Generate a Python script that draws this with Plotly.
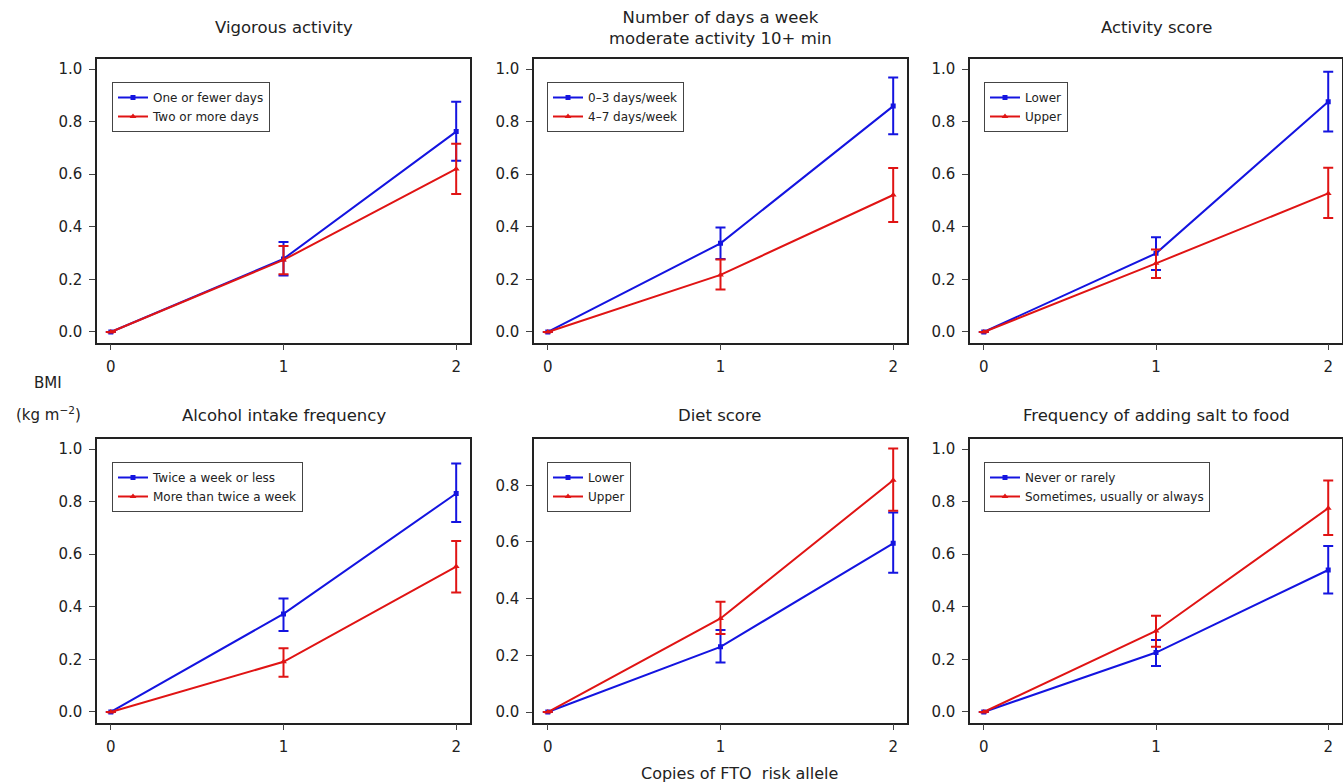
import plotly.graph_objects as go

# ---- data ----
copies = [0, 1, 2]
titles = ["Vigorous activity",
          "Number of days a week<br>moderate activity 10+ min",
          "Activity score",
          "Alcohol intake frequency",
          "Diet score",
          "Frequency of adding salt to food"]
labels_a = ["One or fewer days", "0\u20133 days/week", "Lower",
            "Twice a week or less", "Lower", "Never or rarely"]
labels_b = ["Two or more days", "4\u20137 days/week", "Upper",
            "More than twice a week", "Upper", "Sometimes, usually or always"]

# group A (blue) means, upper, lower
a_mean = [[0, 0.278, 0.762], [0, 0.337, 0.859], [0, 0.299, 0.876],
          [0, 0.373, 0.831], [0, 0.230, 0.595], [0, 0.226, 0.540]]
a_hi = [[0, 0.342, 0.876], [0, 0.397, 0.968], [0, 0.360, 0.990],
        [0, 0.432, 0.945], [0, 0.289, 0.704], [0, 0.274, 0.631]]
a_lo = [[0, 0.215, 0.651], [0, 0.278, 0.752], [0, 0.236, 0.762],
        [0, 0.308, 0.722], [0, 0.175, 0.491], [0, 0.175, 0.451]]
# group B (red)
b_mean = [[0, 0.274, 0.620], [0, 0.217, 0.521], [0, 0.261, 0.527],
          [0, 0.191, 0.553], [0, 0.330, 0.818], [0, 0.308, 0.775]]
b_hi = [[0, 0.327, 0.716], [0, 0.276, 0.624], [0, 0.314, 0.625],
        [0, 0.242, 0.650], [0, 0.389, 0.930], [0, 0.366, 0.880]]
b_lo = [[0, 0.220, 0.525], [0, 0.162, 0.418], [0, 0.205, 0.433],
        [0, 0.134, 0.454], [0, 0.275, 0.710], [0, 0.248, 0.673]]

y_ranges = [[-0.04, 1.04]] * 4 + [[-0.037, 0.965]] + [[-0.04, 1.04]]
y_ticks = [[0, 0.2, 0.4, 0.6, 0.8, 1.0]] * 4 + [[0, 0.2, 0.4, 0.6, 0.8]] + [[0, 0.2, 0.4, 0.6, 0.8, 1.0]]

W, H = 1343, 784
BLUE = "#1414e0"
RED = "#e01414"
FONT = "DejaVu Sans, Liberation Sans, Arial, sans-serif"

# layout geometry (pixels)
x_boxes = [(97, 470), (534, 907), (970, 1342)]
y_boxes = [(58.5, 342.5), (438.5, 722.5)]
legend_pos = [(112, 82), (547, 82), (984, 82), (112, 462), (547, 462), (984, 462)]

fig = go.Figure()
layout = dict(width=W, height=H, margin=dict(l=0, r=0, t=0, b=0),
              plot_bgcolor="white", paper_bgcolor="white",
              font=dict(family=FONT, color="#222"),
              showlegend=True)
annotations = []


def err(mean, hi, lo):
    return dict(type="data", symmetric=False,
                array=[h - m for h, m in zip(hi, mean)],
                arrayminus=[m - l for m, l in zip(mean, lo)],
                width=5, thickness=2)


for i in range(6):
    r, c = divmod(i, 3)
    k = "" if i == 0 else str(i + 1)
    xa, ya = "x" + k, "y" + k
    lg = "legend" + k

    ea = err(a_mean[i], a_hi[i], a_lo[i])
    eb = err(b_mean[i], b_hi[i], b_lo[i])
    fig.add_trace(go.Scatter(x=copies, y=a_mean[i], mode="lines+markers",
                             name=labels_a[i], xaxis=xa, yaxis=ya, legend=lg,
                             line=dict(color=BLUE, width=2),
                             marker=dict(symbol="square", size=5, color=BLUE),
                             error_y=dict(ea, color=BLUE)))
    fig.add_trace(go.Scatter(x=copies, y=b_mean[i], mode="lines+markers",
                             name=labels_b[i], xaxis=xa, yaxis=ya, legend=lg,
                             line=dict(color=RED, width=2),
                             marker=dict(symbol="triangle-up", size=6, color=RED),
                             error_y=dict(eb, color=RED)))

    x0, x1 = x_boxes[c]
    y0, y1 = y_boxes[r]
    common = dict(ticks="outside", ticklen=6, tickwidth=1.2,
                  showline=True, linecolor="#222", linewidth=1.5,
                  mirror=True, showgrid=False, zeroline=False,
                  ticklabelstandoff=4,
                  tickfont=dict(size=15, color="#222", family=FONT))
    layout["xaxis" + k] = dict(domain=[x0 / W, x1 / W], anchor=ya,
                               range=[-0.08, 2.08], tickvals=[0, 1, 2], **common)
    layout["yaxis" + k] = dict(domain=[(H - y1) / H, (H - y0) / H], anchor=xa,
                               range=y_ranges[i], tickvals=y_ticks[i],
                               tickformat=".1f", **common)
    lx, ly = legend_pos[i]
    layout[lg] = dict(x=lx / W, y=(H - ly) / H, xanchor="left", yanchor="top",
                      xref="paper", yref="paper",
                      bgcolor="white", bordercolor="#444", borderwidth=1,
                      font=dict(size=12, color="#222", family=FONT),
                      itemwidth=30, tracegroupgap=0)
    ty = 28 if r == 0 else 415
    annotations.append(dict(text=titles[i], x=(x0 + x1) / 2 / W, y=(H - ty) / H,
                            xref="paper", yref="paper", showarrow=False,
                            xanchor="center", yanchor="middle",
                            font=dict(size=16.5, color="#222", family=FONT)))

annotations.append(dict(text="BMI", x=48 / W, y=(H - 383) / H, xref="paper", yref="paper",
                        xanchor="center", yanchor="middle", showarrow=False,
                        font=dict(size=15, color="#222", family=FONT)))
annotations.append(dict(text="(kg m<sup>\u22122</sup>)", x=48 / W, y=(H - 414) / H,
                        xref="paper", yref="paper", xanchor="center", yanchor="middle",
                        showarrow=False, font=dict(size=15, color="#222", family=FONT)))
annotations.append(dict(text="Copies of FTO&nbsp; risk allele", x=739 / W, y=(H - 773) / H,
                        xref="paper", yref="paper", xanchor="center", yanchor="middle",
                        showarrow=False, font=dict(size=16, color="#222", family=FONT)))
layout["annotations"] = annotations
fig.update_layout(**layout)
fig.write_html("out.html")
